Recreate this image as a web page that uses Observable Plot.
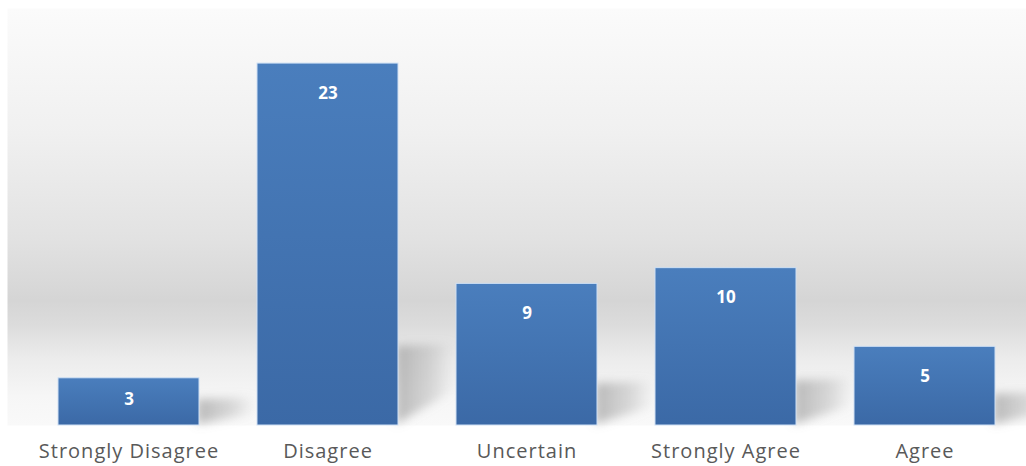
<!DOCTYPE html>
<html>
<head>
<meta charset="utf-8">
<script src="https://cdn.jsdelivr.net/npm/d3@7"></script>
<script src="https://cdn.jsdelivr.net/npm/@observablehq/plot@0.6"></script>
<style>
  html, body { margin: 0; padding: 0; background: #ffffff; }
</style>
</head>
<body>
<div id="chart"></div>
<script>
// Survey responses per answer option
const categories = ["Strongly Disagree", "Disagree", "Uncertain", "Strongly Agree", "Agree"];
const counts = [3, 23, 9, 10, 5];

const data = categories.map((category, i) => ({category, count: counts[i]}));

const chart = Plot.plot({
  width: 1026,
  height: 466,
  marginLeft: 29,
  marginRight: 2,
  marginTop: 8,
  marginBottom: 41,
  style: {background: "#ffffff", color: "#595959", fontFamily: "'Open Sans', sans-serif", overflow: "hidden"},
  x: {domain: categories, paddingInner: 0.29, paddingOuter: 0.145, label: null},
  y: {domain: [0, 26.5], axis: null},
  marks: [
    // soft grey "wall and floor" backdrop
    Plot.frame({fill: "url(#wall)", stroke: "none", insetLeft: -22, insetRight: -2}),
    Plot.barY(data, {x: "category", y: "count", fill: "url(#barFill)", stroke: "#cfe0f4", strokeWidth: 1}),
    // value labels sit inside the top of each bar
    Plot.text(data, {
      x: "category",
      y: d => d.count - Math.min(1.9, d.count * 0.45),
      text: d => String(d.count),
      fill: "white",
      fontWeight: "bold",
      fontSize: 17
    }),
    Plot.axisX({tickSize: 0, tickPadding: 18, fontSize: 20, label: null})
  ]
});

const svg = d3.select(chart);
svg.selectAll('g[aria-label="x-axis tick label"] text').style("letter-spacing", "1px");
const defs = svg.insert("defs", ":first-child");

const wall = defs.append("linearGradient").attr("id", "wall")
  .attr("x1", 0).attr("y1", 0).attr("x2", 0).attr("y2", 1);
[[0, "#fbfbfb"], [0.3, "#f0f0f0"], [0.55, "#e2e2e2"], [0.7, "#d5d5d5"], [0.76, "#dcdcdc"],
 [0.84, "#ececec"], [0.93, "#f6f6f6"], [1, "#f9f9f9"]]
  .forEach(([o, c]) => wall.append("stop").attr("offset", o).attr("stop-color", c));

const barFill = defs.append("linearGradient").attr("id", "barFill")
  .attr("x1", 0).attr("y1", 0).attr("x2", 0).attr("y2", 1);
[[0, "#4a7ebd"], [1, "#3b69a6"]]
  .forEach(([o, c]) => barFill.append("stop").attr("offset", o).attr("stop-color", c));

const shade = defs.append("linearGradient").attr("id", "shade")
  .attr("x1", 0).attr("y1", 0).attr("x2", 1).attr("y2", 0);
[[0, "#8e8e8e", 0.6], [0.6, "#a0a0a0", 0.35], [1, "#b4b4b4", 0]]
  .forEach(([o, c, a]) => shade.append("stop").attr("offset", o).attr("stop-color", c).attr("stop-opacity", a));

defs.append("filter").attr("id", "soft").attr("x", "-30%").attr("y", "-30%").attr("width", "160%").attr("height", "160%")
  .append("feGaussianBlur").attr("stdDeviation", 5);

// cast shadows on the floor behind each bar, placed with the plot's own scales
const sx = chart.scale("x");
const sy = chart.scale("y");
const y0 = sy.apply(0);
const shadows = svg.insert("g", 'g[aria-label="bar"]').attr("filter", "url(#soft)");
data.forEach(d => {
  const xr = sx.apply(d.category) + sx.bandwidth;
  const h = y0 - sy.apply(d.count);
  const sh = 18 + 0.17 * h;
  const len = 58;
  const pts = [
    [xr - 2, y0 - sh],
    [xr + len, y0 - sh - 2],
    [xr + len, y0 - sh * 0.45],
    [xr - 2, y0 - 1]
  ];
  shadows.append("polygon")
    .attr("points", pts.map(p => p.join(",")).join(" "))
    .attr("fill", "url(#shade)");
});

document.getElementById("chart").appendChild(chart);
</script>
</body>
</html>
